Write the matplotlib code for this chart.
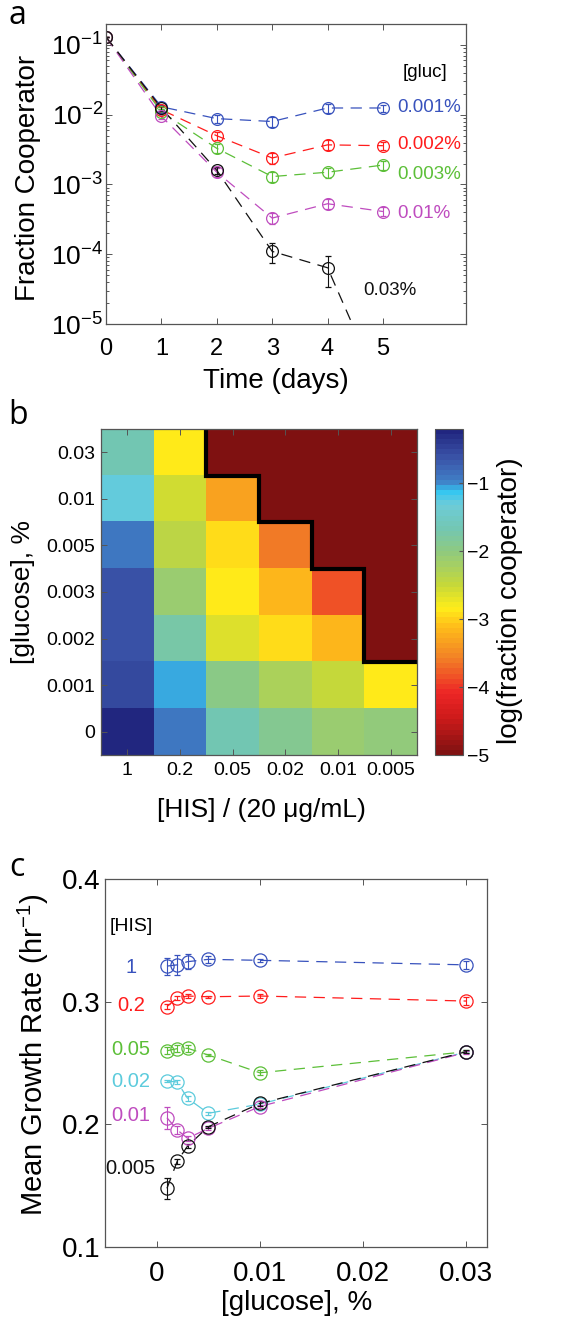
import numpy as np
import matplotlib
matplotlib.use("Agg")
import matplotlib.pyplot as plt
from matplotlib.colors import LinearSegmentedColormap

plt.rcParams['font.family'] = ['Liberation Sans', 'DejaVu Sans']
plt.rcParams['mathtext.fontset'] = 'custom'
plt.rcParams['mathtext.rm'] = 'Liberation Sans'
plt.rcParams['mathtext.it'] = 'Liberation Sans:italic'
plt.rcParams['mathtext.bf'] = 'Liberation Sans:bold'

W, H = 563, 1325

# ---- panel a: fraction cooperator vs time ----
days = [0, 1, 2, 3, 4, 5]
gluc_labels = ['0.001%', '0.002%', '0.003%', '0.01%', '0.03%']
frac_001 = [0.13, 0.013, 0.0088, 0.008, 0.0125, 0.0125]
frac_002 = [0.13, 0.0118, 0.005, 0.0024, 0.0037, 0.0036]
frac_003 = [0.13, 0.011, 0.0033, 0.0013, 0.0015, 0.0019]
frac_01 = [0.13, 0.0095, 0.0015, 3.3e-4, 5.3e-4, 4.1e-4]
frac_03 = [0.13, 0.0125, 0.0016, 1.1e-4, 6.4e-5, 1.0e-6]
err_001 = [0, 0.001, 0.0012, 0.0013, 0.0018, 0.0015]
err_002 = [0, 0.001, 0.0007, 0.0004, 0.0006, 0.0005]
err_003 = [0, 0.001, 0.0005, 0.0002, 0.00025, 0.0003]
err_01 = [0, 0.0008, 0.0002, 6e-5, 8e-5, 6e-5]
err_03 = [0, 0.001, 0.0002, 3.5e-5, 3e-5, 0]
label_y_a = [0.0125, 0.0038, 0.00138, 3.9e-4, 3.0e-5]

# ---- panel b: heatmap log(fraction cooperator) ----
his_labels = ['1', '0.2', '0.05', '0.02', '0.01', '0.005']
glu_rows = ['0.03', '0.01', '0.005', '0.003', '0.002', '0.001', '0']
log_frac = np.array([
    [-1.65, -2.9, -5, -5, -5, -5],
    [-1.3, -2.55, -3.35, -5, -5, -5],
    [-0.95, -2.45, -2.95, -3.65, -5, -5],
    [-0.6, -2.1, -2.85, -3.15, -3.85, -5],
    [-0.6, -1.75, -2.65, -2.95, -3.2, -5],
    [-0.55, -1.1, -2.0, -2.3, -2.5, -2.9],
    [-0.25, -0.95, -1.7, -1.9, -2.15, -2.05],
])

# ---- panel c: growth rate vs glucose ----
glucose = [0.001, 0.002, 0.003, 0.005, 0.01, 0.03]
his_names = ['1', '0.2', '0.05', '0.02', '0.01', '0.005']
rate_1 = [0.329, 0.330, 0.3326, 0.3345, 0.3337, 0.330]
rate_02 = [0.296, 0.303, 0.3046, 0.304, 0.3046, 0.3005]
rate_005 = [0.260, 0.2617, 0.262, 0.2565, 0.242, 0.2592]
rate_002 = [0.2353, 0.2345, 0.2212, 0.209, 0.2165, 0.259]
rate_001 = [0.2054, 0.1954, 0.1886, 0.1967, 0.2145, 0.2587]
rate_0005 = [0.1478, 0.170, 0.1823, 0.198, 0.217, 0.2592]
rerr_1 = [0.007, 0.008, 0.006, 0.003, 0.001, 0.003]
rerr_02 = [0.002, 0.002, 0.002, 0.001, 0.002, 0.003]
rerr_005 = [0.003, 0.003, 0.003, 0.001, 0.002, 0.001]
rerr_002 = [0.001, 0.002, 0.002, 0.001, 0.001, 0.001]
rerr_001 = [0.009, 0.003, 0.002, 0.001, 0.001, 0.001]
rerr_0005 = [0.0087, 0.002, 0.002, 0.001, 0.002, 0.001]
label_y_c = [0.328, 0.297, 0.2606, 0.2353, 0.2076, 0.1644]

BLUE = '#3852bd'
RED = '#ff1c1c'
GREEN = '#5cbf38'
CYAN = '#5ccbdc'
MAGENTA = '#bf4cbf'
BLACK = '#111111'
SPINE = '#555555'
DASH = (0, (9, 6))


def px(x, y):
    return x / W, 1 - y / H


def frame(ax):
    for s in ax.spines.values():
        s.set_color(SPINE)
        s.set_linewidth(0.9)
    ax.tick_params(which='both', direction='in', top=True, right=True,
                   color=SPINE, width=0.7)
    ax.tick_params(which='major', length=4)
    ax.tick_params(which='minor', length=2)


def series(ax, x, y, err, color, ms):
    ax.plot(x, y, ls=DASH, color=color, lw=0.9)
    ax.errorbar(x, y, yerr=err, fmt='o', mfc='none', mec=color, ecolor=color,
                ms=ms, mew=0.9, elinewidth=0.8, capsize=2, capthick=0.8)


fig = plt.figure(figsize=(W / 100, H / 100), dpi=100)

# panel a
axa = fig.add_axes([106 / W, 1 - 324 / H, 360 / W, 300 / H])
a_sets = [(frac_001, err_001, BLUE), (frac_002, err_002, RED),
          (frac_003, err_003, GREEN), (frac_01, err_01, MAGENTA),
          (frac_03, err_03, BLACK)]
for (vals, err, c) in a_sets:
    series(axa, days, vals, err, c, 8.5)
axa.set_yscale('log')
axa.set_xlim(0, 6.5)
axa.set_ylim(1e-5, 0.2)
axa.set_xticks(days)
axa.set_yticks([1e-1, 1e-2, 1e-3, 1e-4, 1e-5])
frame(axa)
axa.tick_params(axis='x', labelsize=17, pad=10)
axa.tick_params(axis='y', labelsize=19, pad=2)
axa.text(5.76, 0.041, '[gluc]', ha='center', va='center', fontsize=13.5)
for lab, ly, (_, _, c) in zip(gluc_labels[:4], label_y_a[:4], a_sets[:4]):
    axa.text(5.25, ly, lab, ha='left', va='center', fontsize=13.5, color=c)
axa.text(4.64, label_y_a[4], gluc_labels[4], ha='left', va='center',
         fontsize=13.5, color=BLACK)
fig.text(*px(28, 178), 'Fraction Cooperator', rotation=90, ha='center',
         va='center', fontsize=20)
fig.text(*px(276, 381), 'Time (days)', ha='center', va='center', fontsize=20)

# panel b
anchors = [(-5.0, (0.50, 0.07, 0.07)), (-4.5, (0.80, 0.10, 0.10)),
           (-4.1, (0.93, 0.15, 0.15)), (-3.6, (0.95, 0.50, 0.15)),
           (-3.1, (1.00, 0.75, 0.10)), (-2.85, (1.00, 0.93, 0.10)),
           (-2.5, (0.78, 0.85, 0.22)), (-2.0, (0.56, 0.79, 0.50)),
           (-1.65, (0.45, 0.78, 0.70)), (-1.3, (0.43, 0.80, 0.85)),
           (-1.1, (0.20, 0.78, 0.95)), (-0.95, (0.25, 0.50, 0.78)),
           (-0.6, (0.23, 0.33, 0.66)), (-0.2, (0.13, 0.15, 0.50))]
vmin, vmax = -5.0, -0.2
cmap = LinearSegmentedColormap.from_list(
    'coop', [((v - vmin) / (vmax - vmin), c) for v, c in anchors], N=64)

axb = fig.add_axes([101 / W, 1 - 755 / H, 316 / W, 326 / H])
im = axb.imshow(log_frac, cmap=cmap, vmin=vmin, vmax=vmax, aspect='auto',
                interpolation='nearest')
axb.set_xticks(range(len(his_labels)))
axb.set_xticklabels(his_labels)
axb.set_yticks(range(len(glu_rows)))
axb.set_yticklabels(glu_rows)
frame(axb)
axb.tick_params(labelsize=14)
axb.tick_params(axis='x', pad=5)
axb.tick_params(axis='y', pad=4)

# boundary around the undetectable (-5) region, built from the data
depth = (log_frac <= vmin).sum(axis=0)
cols = [j for j in range(len(depth)) if depth[j] > 0]
bx, by = [cols[0] - 0.5], [-0.5]
for j in cols:
    bx += [j - 0.5, j + 0.5]
    by += [depth[j] - 0.5, depth[j] - 0.5]
axb.plot(bx, by, color='black', lw=3, solid_joinstyle='miter',
         solid_capstyle='butt', clip_on=False)

cax = fig.add_axes([435 / W, 1 - 755 / H, 28 / W, 326 / H])
cb = fig.colorbar(im, cax=cax, ticks=[-1, -2, -3, -4, -5])
cb.outline.set_edgecolor(SPINE)
cax.tick_params(labelsize=14, direction='in', length=3, color=SPINE, pad=3)
fig.text(*px(510, 601), 'log(fraction cooperator)', rotation=90, ha='center',
         va='center', fontsize=20)
fig.text(*px(23, 592), '[glucose], %', rotation=90, ha='center',
         va='center', fontsize=19)
fig.text(*px(261, 810), '[HIS] / (20 \u03bcg/mL)', ha='center', va='center',
         fontsize=19)

# panel c
axc = fig.add_axes([105 / W, 1 - 1247 / H, 382 / W, 368 / H])
c_sets = [(rate_1, rerr_1, BLUE), (rate_02, rerr_02, RED),
          (rate_005, rerr_005, GREEN), (rate_002, rerr_002, CYAN),
          (rate_001, rerr_001, MAGENTA), (rate_0005, rerr_0005, BLACK)]
for (vals, err, c) in c_sets:
    series(axc, glucose, vals, err, c, 9.5)
axc.set_xlim(-0.005, 0.032)
axc.set_ylim(0.1, 0.4)
axc.set_xticks([0, 0.01, 0.02, 0.03])
axc.set_xticklabels(['0', '0.01', '0.02', '0.03'])
axc.set_yticks([0.1, 0.2, 0.3, 0.4])
axc.set_yticklabels(['0.1', '0.2', '0.3', '0.4'])
frame(axc)
axc.tick_params(axis='x', labelsize=20, pad=10)
axc.tick_params(axis='y', labelsize=20, pad=3)
axc.text(-0.0025, 0.361, '[HIS]', ha='center', va='center', fontsize=14)
for name, ly, (_, _, c) in zip(his_names, label_y_c, c_sets):
    axc.text(-0.0025, ly, name, ha='center', va='center', fontsize=14.5,
             color=c)
fig.text(*px(33, 1055), 'Mean Growth Rate (hr$^{-1}$)', rotation=90,
         ha='center', va='center', fontsize=21)
fig.text(*px(297, 1303), '[glucose], %', ha='center', va='center',
         fontsize=20)

# panel letters
for letter, (lx, ly) in zip('abc', [(17, 15), (18, 416), (17, 868)]):
    fig.text(*px(lx, ly), letter, ha='center', va='center', fontsize=23,
             family=['Open Sans', 'DejaVu Sans'])

fig.savefig('out.png', dpi=100)
